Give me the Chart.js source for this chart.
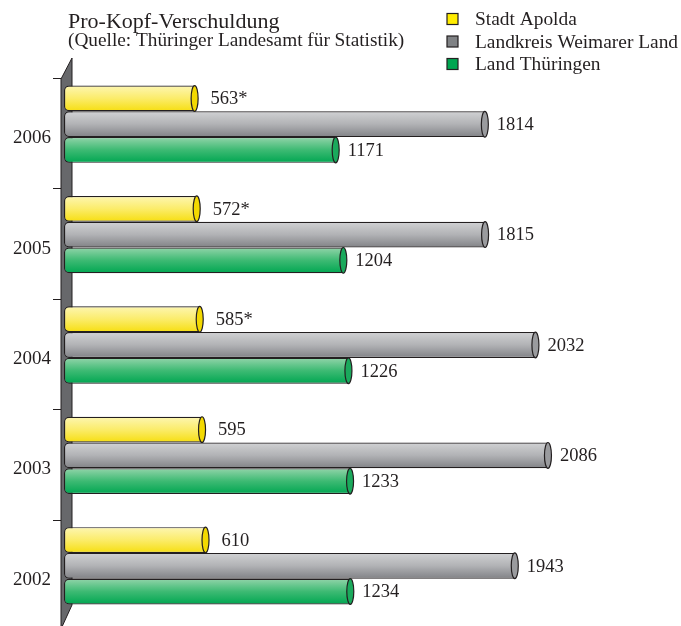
<!DOCTYPE html>
<html>
<head>
<meta charset="utf-8">
<style>
  html, body { margin: 0; padding: 0; background: #fff; }
  #wrap { width: 681px; height: 626px; }
</style>
<script src="https://cdn.jsdelivr.net/npm/chart.js@4/dist/chart.umd.min.js"></script>
</head>
<body>
<div id="wrap"><canvas id="chart" width="681" height="626"></canvas></div>
<script>
// Data (EUR per inhabitant).
var years = ['2006', '2005', '2004', '2003', '2002'];
var apolda = [563, 572, 585, 595, 610];
var apoldaNote = ['*', '*', '*', '', ''];
var weimarerLand = [1814, 1815, 2032, 2086, 1943];
var thueringen = [1171, 1204, 1226, 1233, 1234];
var seriesNames = ['Stadt Apolda', 'Landkreis Weimarer Land', 'Land Thüringen'];

var ink = '#231f20';
var serif = '"Liberation Serif", "DejaVu Serif", serif';

/**
 * Cylinder look: vertical gradient on each bar body, end caps, wall.
 */
var cylinderFill = {
  id: 'cylinderFill',
  beforeDatasetsDraw: function (chart) {
    var ctx = chart.ctx;
    var area = chart.chartArea;

    // The grey side wall of the axis.
    ctx.save();
    ctx.fillStyle = '#67686b';
    ctx.strokeStyle = ink;
    ctx.lineWidth = 1;
    ctx.beginPath();
    ctx.moveTo(area.left - 3, area.top + 10);
    ctx.lineTo(area.left + 8, area.top - 11);
    ctx.lineTo(area.left + 8, area.bottom - 16);
    ctx.lineTo(area.left - 3, area.bottom + 8);
    ctx.closePath();
    ctx.fill();
    ctx.stroke();

    // Tick marks between the years.
    var y = chart.scales.y;
    var step = y.getPixelForValue(1) - y.getPixelForValue(0);
    ctx.beginPath();
    for (var i = 0; i < years.length; i++) {
      var ty = Math.round(y.getPixelForValue(i) - step / 2 + 9) + 0.5;
      ctx.moveTo(area.left - 11, ty);
      ctx.lineTo(area.left - 3, ty);
    }
    ctx.stroke();
    ctx.restore();

    chart.data.datasets.forEach(function (ds, i) {
      chart.getDatasetMeta(i).data.forEach(function (bar) {
        var top = bar.y - bar.height / 2;
        var g = ctx.createLinearGradient(0, top, 0, top + bar.height);
        g.addColorStop(0, ds.shade[0]);
        g.addColorStop(0.5, ds.shade[1]);
        g.addColorStop(1, ds.shade[2]);
        bar.options = Object.assign({}, bar.options, { backgroundColor: g });
      });
    });
  },
  afterDatasetsDraw: function (chart) {
    var ctx = chart.ctx;
    ctx.save();
    chart.data.datasets.forEach(function (ds, i) {
      chart.getDatasetMeta(i).data.forEach(function (bar, j) {
        var h = bar.height / 2;
        // End cap.
        ctx.beginPath();
        ctx.ellipse(bar.x, bar.y, 3.5, h, 0, 0, 2 * Math.PI);
        ctx.fillStyle = ds.cap;
        ctx.fill();
        ctx.lineWidth = 1.2;
        ctx.strokeStyle = ink;
        ctx.stroke();

        // Value label.
        var text = String(ds.data[j]) + (i === 0 ? apoldaNote[j] : '');
        ctx.font = '18.5px ' + serif;
        ctx.fillStyle = ink;
        ctx.textAlign = 'left';
        ctx.textBaseline = 'middle';
        ctx.fillText(text, bar.x + (i === 0 ? 16 : 12), bar.y + 1);
      });
    });
    ctx.restore();
  },
  afterDraw: function (chart) {
    var ctx = chart.ctx;
    ctx.save();
    ctx.fillStyle = ink;
    ctx.textAlign = 'left';
    ctx.textBaseline = 'alphabetic';
    ctx.font = '22px ' + serif;
    ctx.fillText('Pro-Kopf-Verschuldung', 68, 28);
    ctx.font = '19.3px ' + serif;
    ctx.fillText('(Quelle: Thüringer Landesamt für Statistik)', 68, 46);

    // Legend.
    ctx.textBaseline = 'middle';
    chart.data.datasets.forEach(function (ds, i) {
      var cy = 19 + i * 22.5;
      ctx.fillStyle = ds.legendColor;
      ctx.fillRect(447, cy - 5.5, 11, 11);
      ctx.strokeStyle = ink;
      ctx.lineWidth = 1.2;
      ctx.strokeRect(447, cy - 5.5, 11, 11);
      ctx.fillStyle = ink;
      ctx.font = '19.4px ' + serif;
      ctx.fillText(ds.label, 475, cy + 1);
    });
    ctx.restore();
  }
};

var barStyle = {
  borderColor: ink,
  borderWidth: 1.2,
  borderSkipped: false,
  borderRadius: { topLeft: 5, bottomLeft: 5, topRight: 0, bottomRight: 0 },
  categoryPercentage: 0.7,
  barPercentage: 1.0
};

new Chart(document.getElementById('chart'), {
  type: 'bar',
  plugins: [cylinderFill],
  data: {
    labels: years,
    datasets: [
      Object.assign({
        label: seriesNames[0],
        data: apolda,
        backgroundColor: '#f9e31f',
        shade: ['#fdf6b2', '#fbec6a', '#f6de10'],
        cap: '#f3d900',
        legendColor: '#ffec00'
      }, barStyle),
      Object.assign({
        label: seriesNames[1],
        data: weimarerLand,
        backgroundColor: '#a7a8ab',
        shade: ['#d1d2d4', '#b1b2b5', '#818286'],
        cap: '#9a9b9e',
        legendColor: '#808285'
      }, barStyle),
      Object.assign({
        label: seriesNames[2],
        data: thueringen,
        backgroundColor: '#2fb36b',
        shade: ['#93d4aa', '#3dba73', '#00a651'],
        cap: '#1aa95c',
        legendColor: '#00a651'
      }, barStyle)
    ]
  },
  options: {
    indexAxis: 'y',
    responsive: false,
    animation: false,
    devicePixelRatio: 1,
    layout: {
      padding: { top: 69, bottom: 5, left: 0, right: 37 }
    },
    scales: {
      x: {
        display: false,
        min: 0,
        max: 2500
      },
      y: {
        grid: { display: false, drawTicks: false },
        border: { display: false },
        ticks: {
          color: ink,
          font: { family: serif, size: 19 },
          padding: 13,
          labelOffset: 14
        },
        afterFit: function (scale) {
          scale.width = 64;
          scale.paddingTop = 0;
          scale.paddingBottom = 0;
        }
      }
    },
    plugins: {
      legend: { display: false },
      tooltip: { enabled: false }
    }
  }
});
</script>
</body>
</html>
